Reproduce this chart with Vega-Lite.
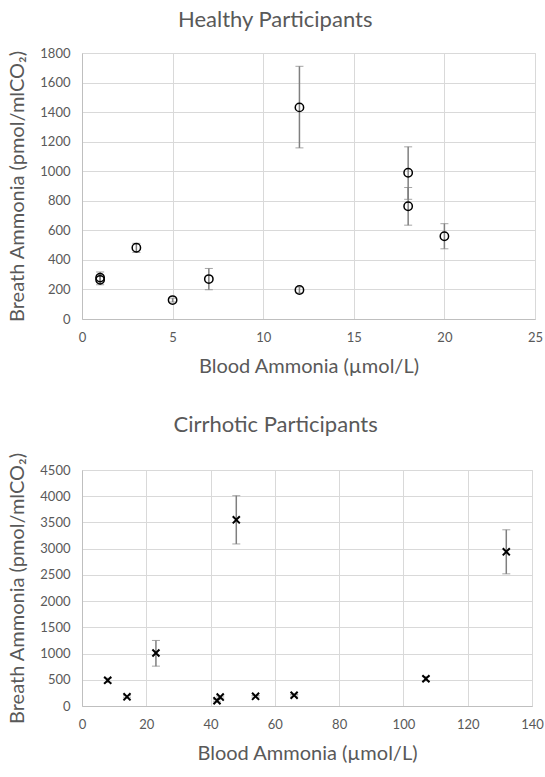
{
  "$schema": "https://vega.github.io/schema/vega-lite/v6.json",
  "background": "white",
  "padding": {"left": 7, "top": 8, "right": 0, "bottom": 5},
  "config": {
    "font": "Lato",
    "view": {"stroke": "#d9d9d9"},
    "axis": {
      "grid": true,
      "gridColor": "#d9d9d9",
      "domainColor": "#bfbfbf",
      "ticks": false,
      "labelColor": "#595959",
      "labelFontSize": 13,
      "labelPadding": 12,
      "labelOverlap": false,
      "labelFlush": false,
      "format": "d",
      "titleColor": "#595959",
      "titleFontSize": 20,
      "titleFontWeight": "normal",
      "titlePadding": 12
    },
    "title": {"fontSize": 22, "fontWeight": "normal", "color": "#595959", "offset": 15},
    "concat": {"spacing": 36}
  },
  "datasets": {
    "healthy": [
      {"blood": 1, "breath": 265, "lo": 232, "hi": 300},
      {"blood": 1, "breath": 280, "lo": 250, "hi": 318},
      {"blood": 3, "breath": 482, "lo": 450, "hi": 512},
      {"blood": 5, "breath": 128, "lo": 115, "hi": 141},
      {"blood": 7, "breath": 270, "lo": 198, "hi": 342},
      {"blood": 12, "breath": 196, "lo": 176, "hi": 216},
      {"blood": 12, "breath": 1432, "lo": 1158, "hi": 1710},
      {"blood": 18, "breath": 990, "lo": 810, "hi": 1165},
      {"blood": 18, "breath": 763, "lo": 635, "hi": 890},
      {"blood": 20, "breath": 560, "lo": 475, "hi": 645}
    ],
    "cirrhotic": [
      {"blood": 8, "breath": 490, "lo": 450, "hi": 530},
      {"blood": 14, "breath": 175, "lo": 155, "hi": 195},
      {"blood": 23, "breath": 1010, "lo": 760, "hi": 1250},
      {"blood": 42, "breath": 100, "lo": 80, "hi": 120},
      {"blood": 43, "breath": 170, "lo": 150, "hi": 190},
      {"blood": 48, "breath": 3550, "lo": 3090, "hi": 4010},
      {"blood": 54, "breath": 185, "lo": 170, "hi": 200},
      {"blood": 66, "breath": 205, "lo": 190, "hi": 220},
      {"blood": 107, "breath": 520, "lo": 480, "hi": 560},
      {"blood": 132, "breath": 2940, "lo": 2520, "hi": 3360}
    ]
  },
  "vconcat": [
    {
      "title": {"text": "Healthy Participants", "frame": "bounds", "anchor": "middle"},
      "width": 453,
      "height": 266,
      "data": {"name": "healthy"},
      "layer": [
        {
          "mark": {"type": "errorbar", "ticks": {"size": 8, "color": "#7f7f7f", "strokeWidth": 1.2}, "rule": {"color": "#7f7f7f", "strokeWidth": 1.5}},
          "encoding": {
            "x": {"field": "blood", "type": "quantitative", "scale": {"domain": [0, 25]}, "axis": {"values": [0, 5, 10, 15, 20, 25], "title": "Blood Ammonia (µmol/L)"}},
            "y": {"field": "lo", "type": "quantitative", "scale": {"domain": [0, 1800]}, "axis": {"values": [0, 200, 400, 600, 800, 1000, 1200, 1400, 1600, 1800], "title": "Breath Ammonia (pmol/mlCO₂)"}},
            "y2": {"field": "hi"}
          }
        },
        {
          "mark": {"type": "point", "shape": "circle", "filled": false, "color": "#000000", "size": 70, "strokeWidth": 1.5, "opacity": 1},
          "encoding": {
            "x": {"field": "blood", "type": "quantitative", "scale": {"domain": [0, 25]}, "axis": {"values": [0, 5, 10, 15, 20, 25], "title": "Blood Ammonia (µmol/L)"}},
            "y": {"field": "breath", "type": "quantitative", "scale": {"domain": [0, 1800]}, "axis": {"values": [0, 200, 400, 600, 800, 1000, 1200, 1400, 1600, 1800], "title": "Breath Ammonia (pmol/mlCO₂)"}}
          }
        }
      ]
    },
    {
      "title": {"text": "Cirrhotic Participants", "frame": "bounds", "anchor": "middle"},
      "width": 450,
      "height": 236,
      "data": {"name": "cirrhotic"},
      "layer": [
        {
          "mark": {"type": "errorbar", "ticks": {"size": 8, "color": "#7f7f7f", "strokeWidth": 1.2}, "rule": {"color": "#7f7f7f", "strokeWidth": 1.5}},
          "encoding": {
            "x": {"field": "blood", "type": "quantitative", "scale": {"domain": [0, 140]}, "axis": {"values": [0, 20, 40, 60, 80, 100, 120, 140], "title": "Blood Ammonia (µmol/L)"}},
            "y": {"field": "lo", "type": "quantitative", "scale": {"domain": [0, 4500]}, "axis": {"values": [0, 500, 1000, 1500, 2000, 2500, 3000, 3500, 4000, 4500], "title": "Breath Ammonia (pmol/mlCO₂)"}},
            "y2": {"field": "hi"}
          }
        },
        {
          "mark": {"type": "point", "shape": "M-1,-1L1,1M-1,1L1,-1", "filled": false, "color": "#000000", "size": 50, "strokeWidth": 2, "opacity": 1},
          "encoding": {
            "x": {"field": "blood", "type": "quantitative", "scale": {"domain": [0, 140]}, "axis": {"values": [0, 20, 40, 60, 80, 100, 120, 140], "title": "Blood Ammonia (µmol/L)"}},
            "y": {"field": "breath", "type": "quantitative", "scale": {"domain": [0, 4500]}, "axis": {"values": [0, 500, 1000, 1500, 2000, 2500, 3000, 3500, 4000, 4500], "title": "Breath Ammonia (pmol/mlCO₂)"}}
          }
        }
      ]
    }
  ]
}
